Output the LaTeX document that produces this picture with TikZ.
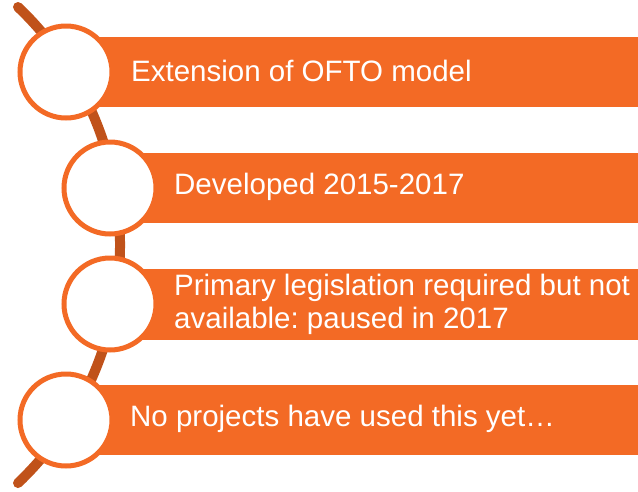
\documentclass[tikz,border=0pt]{standalone}
\usepackage{fontspec}
\setmainfont{Liberation Sans}
\usetikzlibrary{positioning}
\definecolor{ofto}{RGB}{243,106,37}
\definecolor{arcbrown}{RGB}{192,82,26}
\tikzset{
	bar/.style={fill=ofto, draw=none, inner sep=0pt, minimum height=70pt, anchor=west},
	ring/.style={circle, draw=ofto, line width=5pt, fill=white, inner sep=0pt, minimum size=92pt},
	bartext/.style={text=white, font=\fontsize{29.5}{33}\selectfont\frenchspacing, align=left, anchor=west, inner sep=0pt},
}

\begin{document}
\begin{tikzpicture}[x=1pt, y=-1pt]
	\useasboundingbox (0,0) rectangle (638,491);

	% the bent line behind the rings
	\coordinate (arctop) at (18,7);
	\draw[arcbrown, line width=10pt, line cap=round] (arctop) arc[start angle=46.4, end angle=-46.4, radius=328.7pt];

	% bars
	\node[bar, minimum width=572pt] (bar1) at (66,72) {};
	\node[bar, minimum width=528pt] (bar2) at (110,188) {};
	\node[bar, minimum width=528pt, minimum height=71pt] (bar3) at (110,304) {};
	\node[bar, minimum width=572pt] (bar4) at (66,420) {};

	% rings
	\node[ring] (ring1) at (bar1.west) {};
	\node[ring] (ring2) at (bar2.west) {};
	\node[ring] (ring3) at (bar3.west) {};
	\node[ring] (ring4) at (bar4.west) {};

	% texts
	\node[bartext] (text1) at (131,71) {Extension of OFTO model};
	\node[bartext] (text2) at (174,187) {Developed 2015-2017};
	\node[bartext] (text3) at (174,304) {Primary legislation required but not\\available: paused in 2017};
	\node[bartext] (text4) at (130,419) {No projects have used this yet\dots};
\end{tikzpicture}
\end{document}
